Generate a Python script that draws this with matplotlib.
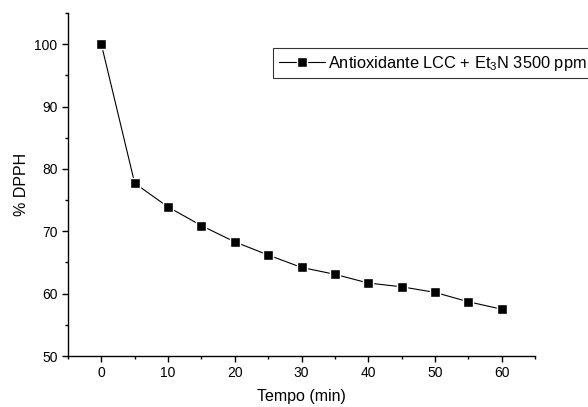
import matplotlib
matplotlib.use("Agg")
import matplotlib.pyplot as plt
from matplotlib.ticker import MultipleLocator

plt.rcParams['font.family'] = ['Liberation Sans', 'DejaVu Sans']
plt.rcParams['mathtext.default'] = 'regular'

# data
tempo = [0, 5, 10, 15, 20, 25, 30, 35, 40, 45, 50, 55, 60]
dpph = [100, 77.7, 73.9, 70.9, 68.3, 66.2, 64.2, 63.1, 61.7, 61.1, 60.2, 58.7, 57.5]
serie = "Antioxidante LCC + Et$_3$N 3500 ppm"

fig = plt.figure(figsize=(5.88, 4.07), dpi=100)
ax = fig.add_axes([0.1156, 0.1253, 0.7944, 0.8427])

ax.plot(tempo, dpph, color='black', lw=0.8, marker='s', ms=7,
        mfc='black', mec='white', mew=1.0, label=serie)

ax.set_xlim(-5, 65)
ax.set_ylim(50, 105)
ax.xaxis.set_major_locator(MultipleLocator(10))
ax.xaxis.set_minor_locator(MultipleLocator(5))
ax.yaxis.set_major_locator(MultipleLocator(10))
ax.yaxis.set_minor_locator(MultipleLocator(5))
ax.tick_params(which='major', direction='out', length=4, width=1, labelsize=10)
ax.tick_params(which='minor', direction='out', length=2.5, width=1)

for s in ['top', 'right']:
    ax.spines[s].set_visible(False)
for s in ['left', 'bottom']:
    ax.spines[s].set_linewidth(1)

ax.set_xlabel("Tempo (min)", fontsize=11.5, labelpad=6)
ax.set_ylabel("% DPPH", fontsize=11.5, labelpad=4)

leg = ax.legend(loc='upper left', bbox_to_anchor=(273 / 588, 1 - 48 / 407),
                bbox_transform=fig.transFigure, fontsize=11.8, frameon=True,
                fancybox=False, edgecolor='black', handlelength=2.8,
                handletextpad=0.2, borderpad=0.35, borderaxespad=0)
leg.get_frame().set_linewidth(0.8)

fig.savefig("out.png", dpi=100)
